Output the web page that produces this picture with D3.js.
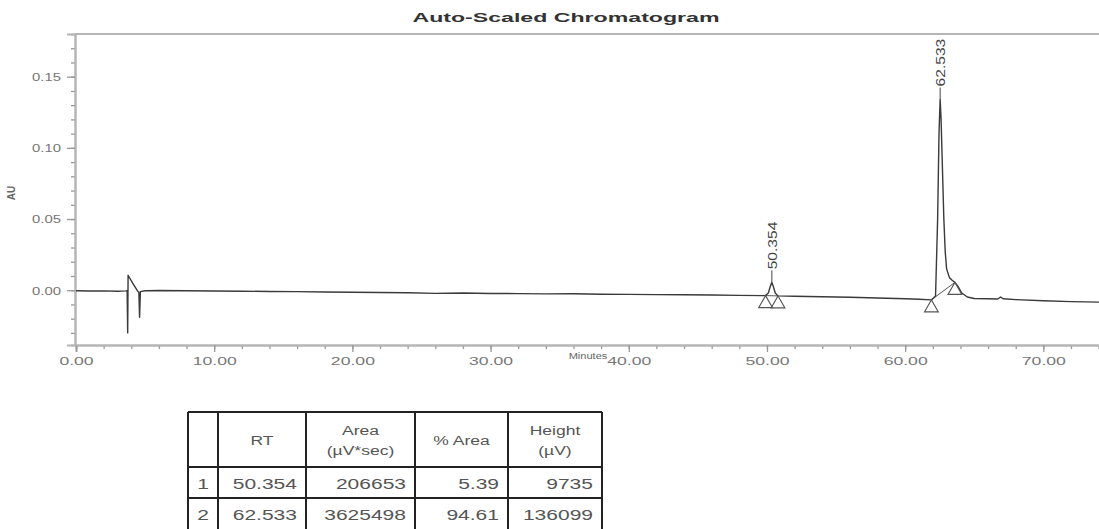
<!DOCTYPE html>
<html>
<head>
<meta charset="utf-8">
<script src="https://cdn.jsdelivr.net/npm/d3@7"></script>
<style>
  body { margin: 0; background: #fff; }
  svg { display: block; font-family: "Liberation Sans", Arial, sans-serif; }
</style>
</head>
<body>
<div id="chart"></div>
<script>
// chromatogram trace, minutes vs AU
var traceTime = [0, 1, 2, 3, 3.6, 3.70, 3.74, 3.77, 4.1, 4.45, 4.55, 4.6, 4.66, 5, 6, 8, 10, 12, 14, 16,
  18, 20, 22, 24, 26, 28, 30, 32, 34, 36, 38, 40, 42, 44, 46, 48, 49.9, 50.1, 50.25, 50.354,
  50.45, 50.6, 50.8, 52, 54, 56, 58, 60, 61.0, 61.9, 62.2, 62.35, 62.45, 62.533, 62.6, 62.7,
  62.8, 62.9, 63.0, 63.2, 63.4, 63.6, 63.8, 64.1, 64.5, 65, 66, 66.7, 66.9, 67.1, 68, 70, 72, 74.1];
var traceAU = [-0.0004, -0.0006, -0.0005, -0.0007, -0.0005, -0.0004, -0.030, 0.0105, 0.005, -0.0005, -0.0015, -0.019, -0.001, -0.0004, -0.0002, -0.0004, -0.0006, -0.0007, -0.0009, -0.0010,
  -0.0013, -0.0014, -0.0016, -0.0018, -0.0022, -0.0020, -0.0023, -0.0024, -0.0026, -0.0025, -0.0028, -0.0029, -0.0031, -0.0032, -0.0034, -0.0036, -0.0038, -0.002, 0.003, 0.0055,
  0.003, -0.002, -0.0040, -0.0042, -0.0046, -0.0050, -0.0055, -0.0060, -0.0064, -0.0068, -0.004, 0.05, 0.11, 0.134, 0.12, 0.085,
  0.05, 0.027, 0.015, 0.009, 0.007, 0.0055, 0.003, -0.002, -0.0048, -0.0058, -0.0060, -0.0062, -0.0048, -0.0060, -0.0066, -0.0074, -0.0080, -0.0084];

// peaks: retention time and apex value
var peakRT = [50.354, 62.533];
var peakApex = [0.0055, 0.134];
var peakLabels = ['50.354', '62.533'];

// integration markers (start / end of each peak)
var markTime = [49.9, 50.8, 61.9, 63.6];
var markAU = [-0.0038, -0.0040, -0.0068, 0.0055];
var dropStart = [[49.9, -0.0038], [61.9, -0.0068]];
var dropEnd = [[50.8, -0.0040], [63.6, 0.0055]];

var xMajor = [0, 10, 20, 30, 40, 50, 60, 70];
var yMajor = [0, 0.05, 0.10, 0.15];

// peak table
var tableHead = [[''], ['RT'], ['Area', '(\u00b5V*sec)'], ['% Area'], ['Height', '(\u00b5V)']];
var tableNum = ['1', '2'];
var tableRT = ['50.354', '62.533'];
var tableArea = ['206653', '3625498'];
var tablePct = ['5.39', '94.61'];
var tableHeight = ['9735', '136099'];

var W = 1099, H = 529;
var svg = d3.select('#chart').append('svg').attr('width', W).attr('height', H);

var x = d3.scaleLinear().domain([0, 74.1]).range([76, 1100]);
var y = d3.scaleLinear().domain([-0.0385, 0.18]).range([345, 34]);

function stretch(sel, k) {
  sel.each(function() {
    var len = this.getComputedTextLength();
    d3.select(this).attr('textLength', len * k).attr('lengthAdjust', 'spacingAndGlyphs');
  });
}

// title
svg.append('text')
  .attr('x', 566).attr('y', 22)
  .attr('text-anchor', 'middle')
  .attr('font-size', 12.5).attr('font-weight', 'bold').attr('fill', '#333')
  .text('Auto-Scaled Chromatogram')
  .call(stretch, 1.85);

// frame top line
svg.append('line')
  .attr('x1', x.range()[0] - 1).attr('x2', W)
  .attr('y1', y.range()[1]).attr('y2', y.range()[1])
  .attr('stroke', '#b5b5b5').attr('stroke-width', 2);

// minor ticks
var xMinorAxis = d3.axisBottom(x).tickValues(d3.range(0, 75, 2)).tickSize(4).tickFormat('');
var yMinorAxis = d3.axisLeft(y).tickValues(d3.range(-3, 18).map(function(d) { return d / 100; })).tickSize(4).tickFormat('');
svg.append('g').attr('transform', 'translate(0,' + y.range()[0] + ')').call(xMinorAxis);
svg.append('g').attr('transform', 'translate(' + (x.range()[0] - 1) + ',0)').call(yMinorAxis);

// major ticks + labels
var xAxis = d3.axisBottom(x).tickValues(xMajor).tickSize(7).tickPadding(5).tickFormat(d3.format('.2f'));
var yAxis = d3.axisLeft(y).tickValues(yMajor).tickSize(8).tickPadding(6).tickFormat(d3.format('.2f'));
var gx = svg.append('g').attr('transform', 'translate(0,' + y.range()[0] + ')').call(xAxis);
var gy = svg.append('g').attr('transform', 'translate(' + (x.range()[0] - 1) + ',0)').call(yAxis);

svg.selectAll('.domain').attr('stroke', '#b5b5b5').attr('stroke-width', 2);
svg.selectAll('.tick line').attr('stroke', '#999').attr('stroke-width', 1.3);
gx.selectAll('text').attr('font-size', 11).attr('fill', '#777').call(stretch, 1.6);
gy.selectAll('text').attr('font-size', 11).attr('fill', '#777').attr('dy', '0.35em').call(stretch, 1.35);

// axis titles
svg.append('text')
  .attr('x', 588).attr('y', 359)
  .attr('text-anchor', 'middle')
  .attr('font-size', 8.5).attr('fill', '#666')
  .text('Minutes')
  .call(stretch, 1.3);
svg.append('text')
  .attr('transform', 'translate(15,193) rotate(-90)')
  .attr('text-anchor', 'middle')
  .attr('font-size', 10).attr('font-weight', 'bold').attr('fill', '#666')
  .text('AU');

// baseline drop lines
svg.append('g').selectAll('line').data(dropStart).join('line')
  .attr('x1', function(d) { return x(d[0]); })
  .attr('y1', function(d) { return y(d[1]); })
  .attr('x2', function(d, i) { return x(dropEnd[i][0]); })
  .attr('y2', function(d, i) { return y(dropEnd[i][1]); })
  .attr('stroke', '#555').attr('stroke-width', 1);

// trace
var line = d3.line()
  .x(function(d, i) { return x(traceTime[i]); })
  .y(function(d) { return y(d); });
svg.append('path')
  .datum(traceAU)
  .attr('d', line)
  .attr('fill', 'none')
  .attr('stroke', '#3a3a3a')
  .attr('stroke-width', 1.4)
  .attr('stroke-linejoin', 'round');

// integration triangles, apex on the point
var tri = d3.symbol(d3.symbolTriangle, 83);
svg.append('g').selectAll('path').data(markTime).join('path')
  .attr('d', tri)
  .attr('transform', function(d, i) { return 'translate(' + x(d) + ',' + (y(markAU[i]) + 8) + ')'; })
  .attr('fill', 'none').attr('stroke', '#555').attr('stroke-width', 1.1);

// peak labels
var pk = svg.append('g').selectAll('g').data(peakRT).join('g');
pk.append('line')
  .attr('x1', function(d) { return x(d); }).attr('x2', function(d) { return x(d); })
  .attr('y1', function(d, i) { return y(peakApex[i]); })
  .attr('y2', function(d, i) { return y(peakApex[i]) - 12; })
  .attr('stroke', '#444').attr('stroke-width', 1);
pk.append('text')
  .attr('transform', function(d, i) { return 'translate(' + (x(d) + 5) + ',' + (y(peakApex[i]) - 13) + ') rotate(-90)'; })
  .attr('font-size', 13).attr('fill', '#444')
  .text(function(d, i) { return peakLabels[i]; })
  .call(stretch, 1.2);

// table
var colX = [188, 218, 306, 415, 508, 602];
var rowY = [412, 467, 498, 530];
var tbl = svg.append('g');
tbl.selectAll('line.v').data(colX).join('line')
  .attr('x1', function(d) { return d; }).attr('x2', function(d) { return d; })
  .attr('y1', rowY[0]).attr('y2', rowY[rowY.length - 1])
  .attr('stroke', '#222').attr('stroke-width', 2);
tbl.selectAll('line.h').data(rowY).join('line')
  .attr('x1', colX[0]).attr('x2', colX[colX.length - 1])
  .attr('y1', function(d) { return d; }).attr('y2', function(d) { return d; })
  .attr('stroke', '#222').attr('stroke-width', 2);

tableHead.forEach(function(lines, c) {
  var cx = (colX[c] + colX[c + 1]) / 2;
  var cy = (rowY[0] + rowY[1]) / 2;
  lines.forEach(function(t, j) {
    tbl.append('text')
      .attr('x', cx)
      .attr('y', cy + 5 + (j - (lines.length - 1) / 2) * 20)
      .attr('text-anchor', 'middle')
      .attr('font-size', 12.5).attr('fill', '#555')
      .text(t)
      .call(stretch, 1.4);
  });
});

var cols = [tableNum, tableRT, tableArea, tablePct, tableHeight];
cols.forEach(function(vals, c) {
  vals.forEach(function(v, r) {
    var t = tbl.append('text')
      .attr('y', (rowY[r + 1] + rowY[r + 2]) / 2 + 6)
      .attr('font-size', 14).attr('fill', '#555')
      .text(v);
    if (c === 0) {
      t.attr('x', (colX[0] + colX[1]) / 2).attr('text-anchor', 'middle');
    } else {
      t.attr('x', colX[c + 1] - 9).attr('text-anchor', 'end');
    }
    t.call(stretch, 1.5);
  });
});
</script>
</body>
</html>
